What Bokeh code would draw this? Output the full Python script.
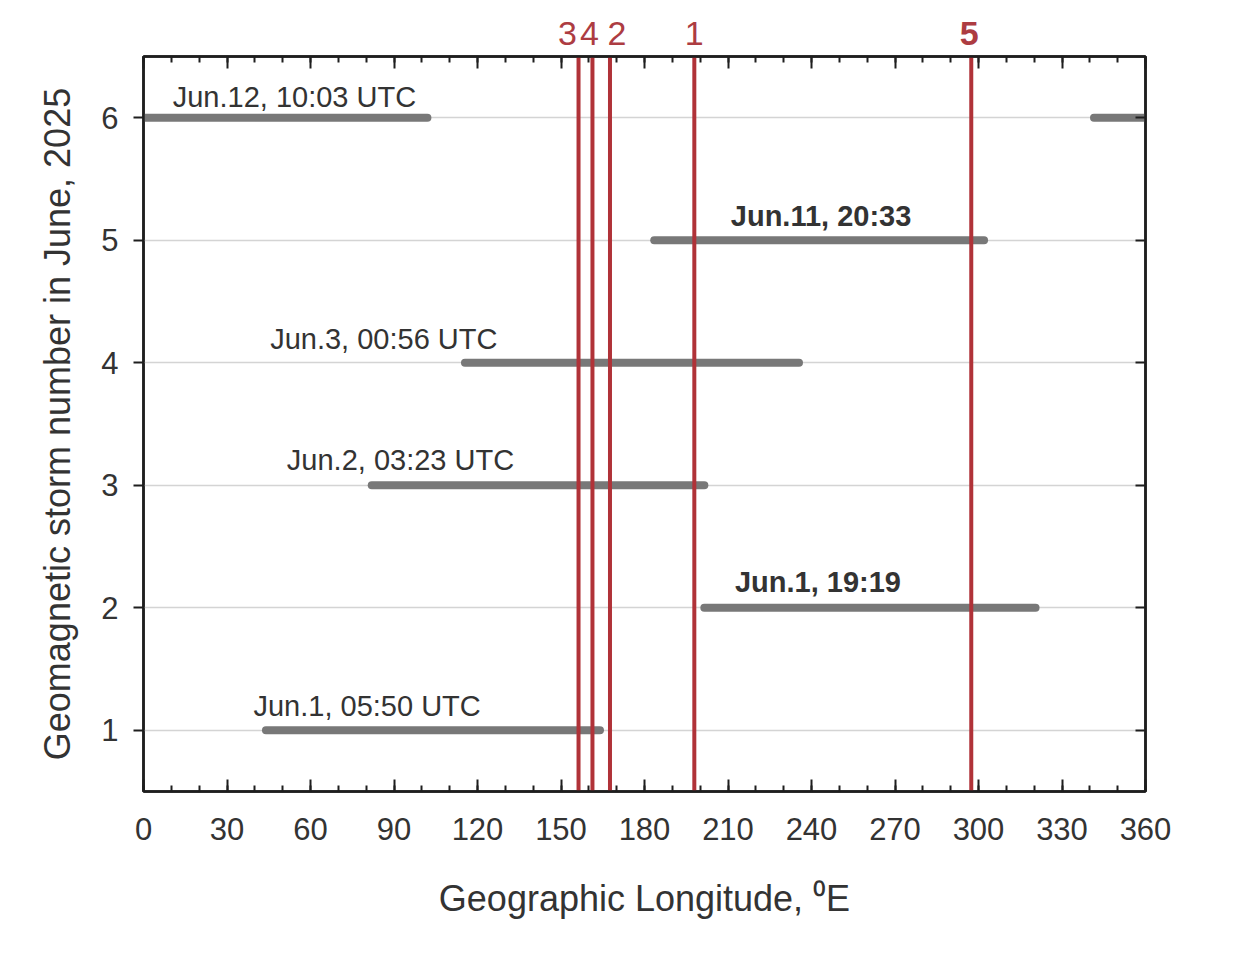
from bokeh.plotting import figure
from bokeh.models import ColumnDataSource, LinearAxis, SingleIntervalTicker, FixedTicker, Range1d
from bokeh.layouts import column
from bokeh.core.properties import value
from bokeh.embed import file_html
from bokeh.resources import INLINE

# ---- data ----
storm_row = [6, 6, 5, 4, 3, 2, 1]
lon_start = [0.0, 341.5, 183.5, 115.5, 82.0, 201.5, 44.0]
lon_end = [102.0, 360.0, 302.0, 235.5, 201.5, 320.5, 164.0]

event_labels = ["Jun.12, 10:03 UTC", "Jun.11, 20:33", "Jun.3, 00:56 UTC",
                "Jun.2, 03:23 UTC", "Jun.1, 19:19", "Jun.1, 05:50 UTC"]
event_label_x = [10.5, 211.0, 45.5, 51.5, 212.5, 39.5]
event_label_y = [6.17, 5.2, 4.19, 3.21, 2.21, 1.2]
event_label_style = ["normal", "bold", "normal", "normal", "bold", "normal"]

marker_lon = [156.3, 161.3, 167.6, 197.9, 297.4]
marker_names = ["3", "4", "2", "1", "5"]
marker_name_shift = [-11, -3, 7, 0, -2]
marker_name_style = ["normal", "normal", "normal", "normal", "bold"]

y_ticks = [1, 2, 3, 4, 5, 6]

FONT = "Liberation Sans"
GRAY_TXT = "#333333"
W = 1240
ML, MR = 143, 95

x_range = Range1d(0, 360)

# ---- strip above the frame holding the marker numbers ----
top = figure(width=W, height=50, output_backend="svg", toolbar_location=None,
             x_range=x_range, y_range=Range1d(-0.12, 1),
             min_border_left=ML, min_border_right=MR, min_border_top=0, min_border_bottom=0)
top.axis.visible = False
top.grid.grid_line_color = None
top.outline_line_color = None
top.background_fill_color = "white"
top.border_fill_color = "white"
names = ColumnDataSource(dict(x=marker_lon, y=[0] * len(marker_lon), t=marker_names,
                              sh=marker_name_shift, st=marker_name_style))
top.text(x="x", y="y", text="t", source=names, x_offset="sh",
         text_font=value(FONT), text_font_size="34px", text_font_style="st",
         text_color="#ad3c42", text_align="center", text_baseline="bottom")

# ---- main chart ----
p = figure(width=W, height=898, output_backend="svg", toolbar_location=None,
           x_range=x_range, y_range=Range1d(0.5, 6.5),
           min_border_left=ML, min_border_right=MR, min_border_top=6,
           min_border_bottom=157)
p.background_fill_color = "white"
p.border_fill_color = "white"
p.outline_line_color = "#1e1e1e"
p.outline_line_width = 2.5

p.xaxis.ticker = SingleIntervalTicker(interval=30, num_minor_ticks=3)
p.yaxis.ticker = FixedTicker(ticks=y_ticks)
for ax in (p.xaxis[0], p.yaxis[0]):
    ax.axis_line_color = "#1e1e1e"
    ax.axis_line_width = 2.5
    ax.major_tick_line_color = "#1e1e1e"
    ax.major_tick_line_width = 2
    ax.minor_tick_line_color = "#1e1e1e"
    ax.minor_tick_line_width = 2
    ax.major_label_text_font = FONT
    ax.major_label_text_font_size = "31px"
    ax.major_label_text_color = GRAY_TXT
    ax.axis_label_text_font = FONT
    ax.axis_label_text_font_size = "36px"
    ax.axis_label_text_font_style = "normal"
    ax.axis_label_text_color = GRAY_TXT

p.xaxis.major_tick_in = 12
p.xaxis.major_tick_out = 0
p.xaxis.minor_tick_in = 6
p.xaxis.minor_tick_out = 0
p.xaxis.major_label_standoff = 26
p.xaxis.axis_label = "Geographic Longitude, \u2070E"
p.xaxis.axis_label_standoff = 35

p.yaxis.major_tick_in = 0
p.yaxis.major_tick_out = 10
p.yaxis.minor_tick_in = 0
p.yaxis.minor_tick_out = 0
p.yaxis.major_label_standoff = 15
p.yaxis.axis_label = "Geomagnetic storm number in June, 2025"
p.yaxis.axis_label_standoff = 20

top_ax = LinearAxis(ticker=SingleIntervalTicker(interval=30, num_minor_ticks=3))
right_ax = LinearAxis(ticker=FixedTicker(ticks=y_ticks))
for ax in (top_ax, right_ax):
    ax.axis_line_color = "#1e1e1e"
    ax.axis_line_width = 2.5
    ax.major_tick_line_color = "#1e1e1e"
    ax.major_tick_line_width = 2
    ax.minor_tick_line_color = "#1e1e1e"
    ax.minor_tick_line_width = 2
    ax.major_tick_out = 0
    ax.minor_tick_out = 0
    ax.major_label_text_font_size = "0px"
    ax.major_label_standoff = 0
top_ax.major_tick_in = 12
top_ax.minor_tick_in = 6
right_ax.major_tick_in = 10
right_ax.minor_tick_in = 0
p.add_layout(top_ax, "above")
p.add_layout(right_ax, "right")

p.xgrid.grid_line_color = None
p.ygrid.grid_line_color = "#d4d4d4"
p.ygrid.grid_line_width = 1.5

# storm longitude bars
bars = ColumnDataSource(dict(y=storm_row, x0=lon_start, x1=lon_end))
p.segment(x0="x0", y0="y", x1="x1", y1="y", source=bars,
          line_color="#787878", line_width=8, line_cap="round")

# marker vertical lines
ylo, yhi = p.y_range.start, p.y_range.end
marks = ColumnDataSource(dict(x=marker_lon, y0=[ylo] * len(marker_lon),
                              y1=[yhi] * len(marker_lon)))
p.segment(x0="x", y0="y0", x1="x", y1="y1", source=marks,
          line_color="#b03238", line_width=4)

# event labels
ev = ColumnDataSource(dict(x=event_label_x, y=event_label_y, t=event_labels,
                           st=event_label_style))
p.text(x="x", y="y", text="t", source=ev, text_font=value(FONT),
       text_font_size="29px", text_font_style="st", text_color=GRAY_TXT,
       text_align="left", text_baseline="middle")

open("out.html", "w").write(file_html(column(top, p, spacing=0), INLINE))
